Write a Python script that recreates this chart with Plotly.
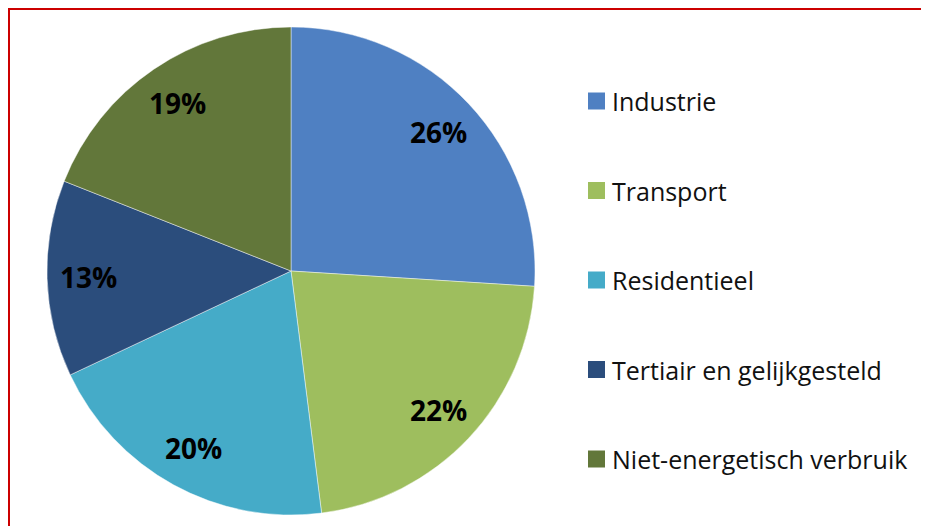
import math
import plotly.graph_objects as go

labels = ["Industrie", "Transport", "Residentieel", "Tertiair en gelijkgesteld", "Niet-energetisch verbruik"]
values = [26, 22, 20, 13, 19]
colors = ["#4F80C2", "#9EBE5E", "#45ABC8", "#2B4D7C", "#62773A"]

W, H = 929, 526
OFF = 8  # page body offset
cx_px, cy_px, r_px = 291 - OFF, 271 - OFF, 244

dom_x = [(cx_px - r_px) / W, (cx_px + r_px) / W]
dom_y = [(H - cy_px - r_px) / H, (H - cy_px + r_px) / H]

fig = go.Figure(go.Pie(
    labels=labels, values=values, sort=False, direction="clockwise", rotation=0,
    marker=dict(colors=colors, line=dict(color="rgba(255,255,255,0.45)", width=1)),
    textinfo="none", hoverinfo="label+percent", showlegend=False,
    domain=dict(x=dom_x, y=dom_y),
))

annotations = []
total = sum(values)
cum = 0
for v in values:
    mid = (cum + v / 2) / total * 2 * math.pi
    cum += v
    px = cx_px + 0.83 * r_px * math.sin(mid)
    py = cy_px - 0.83 * r_px * math.cos(mid)
    annotations.append(dict(
        x=px / W, y=1 - py / H, xref="paper", yref="paper", showarrow=False,
        text="<b>%d%%</b>" % round(v / total * 100),
        font=dict(family="Open Sans", size=28, color="#000000"),
        xanchor="center", yanchor="middle",
    ))

shapes = []
leg_y0, leg_dy = 101 - OFF, 89.5
for i, (lab, col) in enumerate(zip(labels, colors)):
    yc = leg_y0 + i * leg_dy
    shapes.append(dict(type="rect", xref="paper", yref="paper",
                       x0=(588 - OFF) / W, x1=(605 - OFF) / W,
                       y0=1 - (yc + 8.5) / H, y1=1 - (yc - 8.5) / H,
                       fillcolor=col, line=dict(width=0)))
    annotations.append(dict(
        x=(610 - OFF) / W, y=1 - yc / H, xref="paper", yref="paper", showarrow=False,
        text=lab, font=dict(family="Open Sans", size=25, color="#111111"),
        xanchor="left", yanchor="middle",
    ))

shapes.append(dict(type="rect", xref="paper", yref="paper",
                   x0=1 / W, x1=1.05, y0=-0.05, y1=1 - 1 / H,
                   line=dict(color="#CC0000", width=2), fillcolor="rgba(0,0,0,0)"))

fig.update_layout(
    width=W, height=H, margin=dict(l=0, r=0, t=0, b=0),
    paper_bgcolor="white", plot_bgcolor="white",
    annotations=annotations, shapes=shapes, showlegend=False,
)

fig.write_html("out.html")
